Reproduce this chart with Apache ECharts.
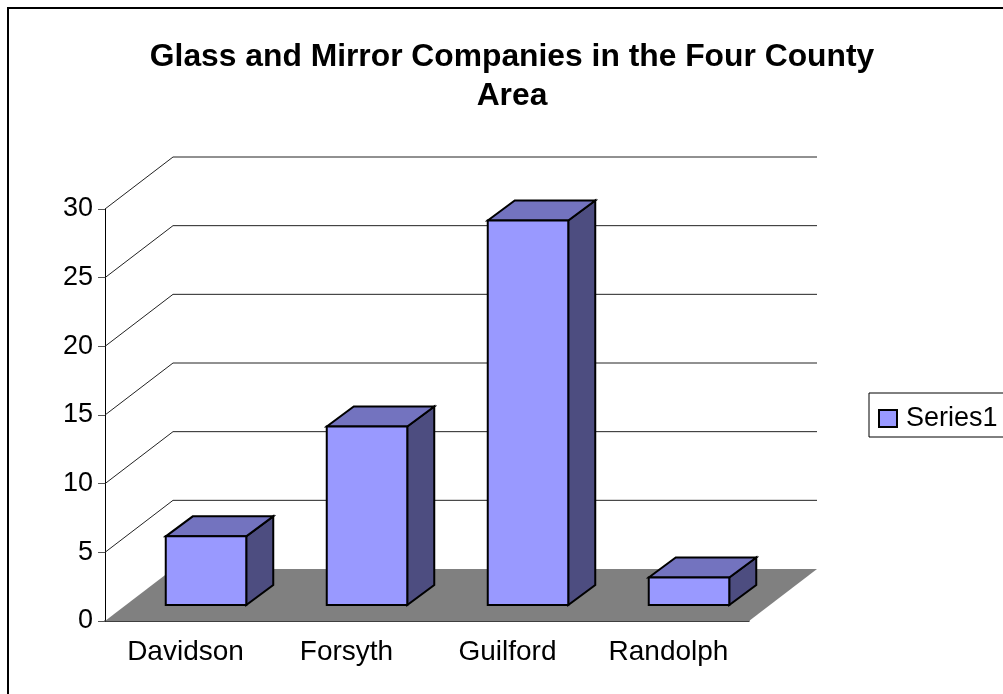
<!DOCTYPE html>
<html><head><meta charset="utf-8">
<style>html,body{margin:0;padding:0;background:#fff}#c{width:1003px;height:694px}</style>
<script src="https://cdn.jsdelivr.net/npm/echarts@6/dist/echarts.min.js"></script>
</head><body><div id="c"></div>
<script>
const titleText = "Glass and Mirror Companies in the Four County\nArea";
const categories = ["Davidson", "Forsyth", "Guilford", "Randolph"];
const seriesName = "Series1";
const seriesValues = [5, 13, 28, 2];
const yTicks = [0, 5, 10, 15, 20, 25, 30];

const FONT = "Liberation Sans";
const WALL_DX = 68, WALL_DY = -52;
const BAR_SHIFT_X = 20.5, BAR_SHIFT_Y = -16;
const BAR_DX = 27, BAR_DY = -20;
const FACE = "#9999FF", TOP = "#7373BF", SIDE = "#4D4D80";

const chart = echarts.init(document.getElementById("c"), null, {renderer: "canvas"});
chart.setOption({
  animation: false,
  backgroundColor: "#fff",
  title: {
    text: titleText, left: 507, top: 33, textAlign: "center",
    textStyle: {fontFamily: FONT, fontSize: 31.8, fontWeight: "bold", color: "#000", lineHeight: 39}
  },
  legend: {
    left: 869, top: 393, orient: "vertical", padding: [12, 15, 5, 9],
    borderColor: "#000", borderWidth: 1, itemWidth: 18, itemHeight: 17, itemGap: 0,
    icon: "rect", selectedMode: false,
    textStyle: {fontFamily: FONT, fontSize: 27, color: "#000", padding: [0, 0, 0, 4]},
    data: [{name: seriesName, itemStyle: {color: FACE, borderColor: "#000", borderWidth: 2}}]
  },
  grid: {left: 105, right: 254, top: 209, bottom: 73},
  xAxis: {
    type: "category", data: categories,
    axisLine: {lineStyle: {color: "#000", width: 1.5}},
    axisTick: {length: 6, lineStyle: {color: "#555"}, alignWithLabel: false},
    axisLabel: {fontFamily: FONT, fontSize: 28, color: "#000", margin: 17, interval: 0},
    splitLine: {show: false}
  },
  yAxis: {
    type: "value", min: 0, max: 30, interval: 5,
    axisLine: {show: true, lineStyle: {color: "#000", width: 1}},
    axisTick: {show: true, length: 7, lineStyle: {color: "#555"}},
    axisLabel: {fontFamily: FONT, fontSize: 27, color: "#000", margin: 12},
    splitLine: {show: false}
  },
  graphic: [{
    type: "rect", silent: true, z: -10,
    shape: {x: 8, y: 8, width: 1200, height: 900},
    style: {fill: "#fff", stroke: "#000", lineWidth: 2}
  }],
  series: [
    {
      type: "custom", coordinateSystem: "cartesian2d", silent: true, z: 1,
      data: yTicks.map(t => [0, t]), encode: {x: 0, y: 1},
      renderItem(params, api) {
        const p = api.coord([0, api.value(1)]);
        const cs = params.coordSys, xL = cs.x, xR = cs.x + cs.width, y = p[1];
        const children = [];
        if (api.value(1) === 0) {
          children.push({type: "polygon", shape: {points: [[xL, y], [xL + WALL_DX, y + WALL_DY], [xR + WALL_DX, y + WALL_DY], [xR, y]]},
            style: {fill: "#808080", stroke: null}});
        } else {
          children.push({type: "polyline", shape: {points: [[xL, y], [xL + WALL_DX, y + WALL_DY], [xR + WALL_DX, y + WALL_DY]]},
            style: {fill: null, stroke: "#222", lineWidth: 1}});
        }
        return {type: "group", children};
      }
    },
    {
      type: "custom", name: seriesName, coordinateSystem: "cartesian2d", silent: true, z: 3,
      itemStyle: {color: FACE},
      data: seriesValues.map((v, i) => [categories[i], v]), encode: {x: 0, y: 1},
      renderItem(params, api) {
        const idx = api.value(0), top = api.coord([idx, api.value(1)]), base = api.coord([idx, 0]);
        const w = api.size([1, 0])[0] * 0.5;
        const x0 = top[0] + BAR_SHIFT_X - w / 2, x1 = x0 + w;
        const y0 = top[1] + BAR_SHIFT_Y, y1 = base[1] + BAR_SHIFT_Y;
        const ls = {stroke: "#000", lineWidth: 2, lineJoin: "miter"};
        return {type: "group", children: [
          {type: "polygon", shape: {points: [[x1, y0], [x1 + BAR_DX, y0 + BAR_DY], [x1 + BAR_DX, y1 + BAR_DY], [x1, y1]]}, style: {fill: SIDE, ...ls}},
          {type: "polygon", shape: {points: [[x0, y0], [x0 + BAR_DX, y0 + BAR_DY], [x1 + BAR_DX, y0 + BAR_DY], [x1, y0]]}, style: {fill: TOP, ...ls}},
          {type: "rect", shape: {x: x0, y: y0, width: w, height: y1 - y0}, style: {fill: FACE, ...ls}}
        ]};
      }
    }
  ]
});
</script></body></html>
